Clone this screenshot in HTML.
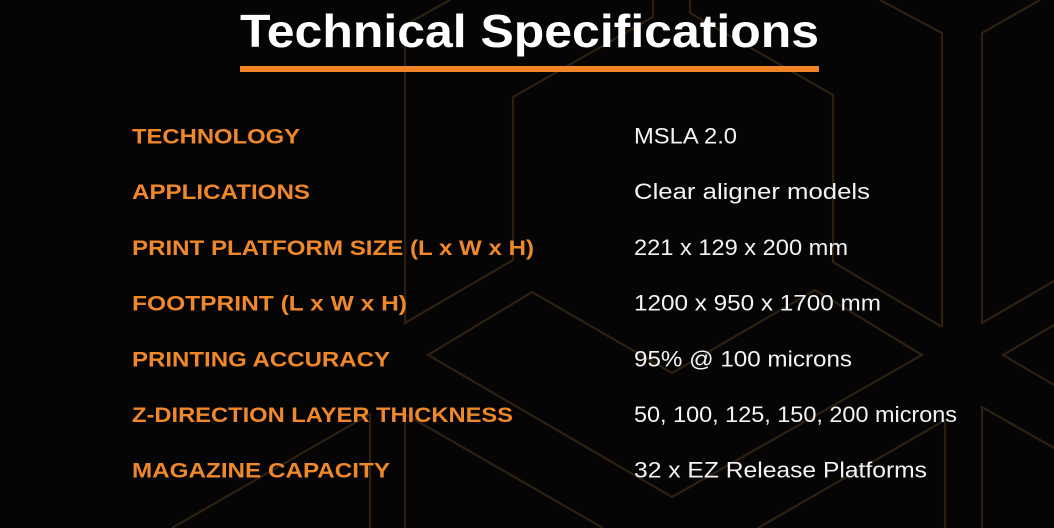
<!DOCTYPE html>
<html>
<head>
<meta charset="utf-8">
<style>
  html, body { margin: 0; padding: 0; background: #050505; }
  body { width: 1054px; height: 528px; overflow: hidden; }
  svg { display: block; }
  .title { font-family: "Liberation Sans", sans-serif; font-weight: bold; fill: #ffffff; }
  .lbl { font-family: "Liberation Sans", sans-serif; font-weight: bold; fill: #ef872b; font-size: 21.5px; }
  .val { font-family: "Liberation Sans", sans-serif; font-weight: normal; fill: #f4f4f4; font-size: 22px; }
</style>
</head>
<body>
<svg width="1054" height="528" viewBox="0 0 1054 528" xmlns="http://www.w3.org/2000/svg">
  <rect x="0" y="0" width="1054" height="528" fill="#050505"/>

  <!-- background hex line pattern -->
  <g fill="none" stroke="#2e2011" stroke-width="2.2" stroke-linejoin="miter">
    <polyline points="450,0 405,25 405,323 513,260"/>
    <polyline points="513,260 513,97 653,17 653,0"/>
    <polyline points="690,0 690,13 833,95 833,262 942,327"/>
    <polyline points="880,0 942,33 942,327"/>
    <polyline points="1040,0 982,33 982,323 1054,281"/>
    <polygon points="428,355 532,292 672,373 815,290 922,355 672,497"/>
    <polyline points="1054,325 1003,355 1054,385"/>
    <polyline points="405,528 405,414 603,528"/>
    <polyline points="172,528 370,414 370,528"/>
    <polyline points="758,528 945,420 945,528"/>
    <polyline points="982,528 982,407 1054,448"/>
  </g>

  <!-- title -->
  <text class="title" x="240" y="47" font-size="46" textLength="579" lengthAdjust="spacingAndGlyphs">Technical Specifications</text>
  <rect x="240" y="66" width="579" height="6" fill="#ef8428"/>

  <!-- labels -->
  <text class="lbl" x="132" y="143.3" textLength="168" lengthAdjust="spacingAndGlyphs">TECHNOLOGY</text>
  <text class="lbl" x="132" y="199" textLength="178" lengthAdjust="spacingAndGlyphs">APPLICATIONS</text>
  <text class="lbl" x="132" y="254.8" textLength="402" lengthAdjust="spacingAndGlyphs">PRINT PLATFORM SIZE (L x W x H)</text>
  <text class="lbl" x="132" y="310.5" textLength="275" lengthAdjust="spacingAndGlyphs">FOOTPRINT (L x W x H)</text>
  <text class="lbl" x="132" y="366.3" textLength="258" lengthAdjust="spacingAndGlyphs">PRINTING ACCURACY</text>
  <text class="lbl" x="132" y="422" textLength="381" lengthAdjust="spacingAndGlyphs">Z-DIRECTION LAYER THICKNESS</text>
  <text class="lbl" x="132" y="477.7" textLength="258" lengthAdjust="spacingAndGlyphs">MAGAZINE CAPACITY</text>

  <!-- values -->
  <text class="val" x="634" y="143.3" textLength="103" lengthAdjust="spacingAndGlyphs">MSLA 2.0</text>
  <text class="val" x="634" y="199" textLength="236" lengthAdjust="spacingAndGlyphs">Clear aligner models</text>
  <text class="val" x="634" y="254.8" textLength="214" lengthAdjust="spacingAndGlyphs">221 x 129 x 200 mm</text>
  <text class="val" x="634" y="310.5" textLength="247" lengthAdjust="spacingAndGlyphs">1200 x 950 x 1700 mm</text>
  <text class="val" x="634" y="366.3" textLength="218" lengthAdjust="spacingAndGlyphs">95% @ 100 microns</text>
  <text class="val" x="634" y="422" textLength="323" lengthAdjust="spacingAndGlyphs">50, 100, 125, 150, 200 microns</text>
  <text class="val" x="634" y="477.7" textLength="293" lengthAdjust="spacingAndGlyphs">32 x EZ Release Platforms</text>
</svg>
</body>
</html>
